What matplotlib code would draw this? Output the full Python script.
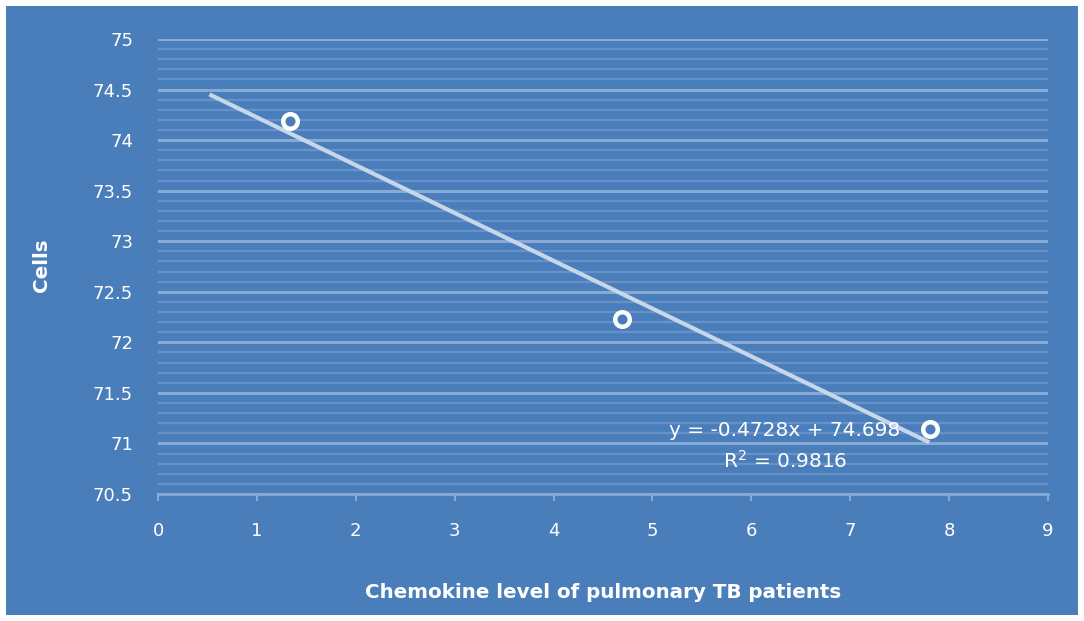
import numpy as np
import matplotlib.pyplot as plt
from matplotlib.patches import Rectangle
from matplotlib.ticker import MultipleLocator

# Chemokine level vs cells
chemokine = [1.335, 4.69, 7.81]
cells = [74.19, 72.23, 71.14]

# Linear trendline as reported
slope = -0.4728
intercept = 74.698
r_squared = 0.9816
trend_x = [0.52, 7.8]

bg = "#4a7ebb"
fig = plt.figure(figsize=(10.84, 6.21), dpi=100)
fig.patch.set_facecolor("white")
fig.patches.append(Rectangle((6 / 1084, 6 / 621), 1072 / 1084, 609 / 621,
                             transform=fig.transFigure, facecolor=bg,
                             edgecolor="none", zorder=-5))

ax = fig.add_axes([158 / 1084, 1 - 494 / 621, 890 / 1084, 455 / 621])
ax.set_facecolor(bg)
ax.set_xlim(0, 9)
ax.set_ylim(70.5, 75)

ax.yaxis.set_major_locator(MultipleLocator(0.5))
ax.yaxis.set_minor_locator(MultipleLocator(0.1))
ax.xaxis.set_major_locator(MultipleLocator(1))
ax.grid(which="major", axis="y", color="#86a9d6", linewidth=2.2, zorder=1)
ax.grid(which="minor", axis="y", color="#6891c7", linewidth=1.6, zorder=1)

for side in ["top", "right", "left"]:
    ax.spines[side].set_visible(False)
ax.spines["bottom"].set_color("#86a9d6")
ax.spines["bottom"].set_linewidth(2)

ax.tick_params(axis="y", which="both", length=0, labelsize=13,
               labelcolor="white", pad=18)
ax.tick_params(axis="x", which="major", length=5, width=1.5, color="#86a9d6",
               direction="out", labelsize=13, labelcolor="white", pad=15)
ax.set_yticks(np.arange(70.5, 75.01, 0.5))
ax.set_yticklabels([f"{v:g}" for v in np.arange(70.5, 75.01, 0.5)])

tx = np.array(trend_x)
ax.plot(tx, slope * tx + intercept, color="#c8d6ea", linewidth=3,
        solid_capstyle="butt", zorder=3)
ax.scatter(chemokine, cells, s=110, facecolor=bg, edgecolor="white",
           linewidth=3.2, zorder=4)

ax.text(785 / 1084, 1 - 430 / 621, f"y = {slope}x + {intercept}",
        transform=fig.transFigure, ha="center", va="center",
        color="white", fontsize=14.5)
ax.text(785 / 1084, 1 - 461 / 621, f"R$^2$ = {r_squared}",
        transform=fig.transFigure, ha="center", va="center",
        color="white", fontsize=14.5)

fig.text(603 / 1084, 1 - 593 / 621, "Chemokine level of pulmonary TB patients",
         ha="center", va="center", color="white", fontsize=14.3,
         fontweight="bold")
fig.text(42 / 1084, 1 - 265 / 621, "Cells", ha="center", va="center",
         color="white", fontsize=14.3, fontweight="bold", rotation=90)

fig.savefig("out.png", dpi=100, facecolor=fig.get_facecolor())
